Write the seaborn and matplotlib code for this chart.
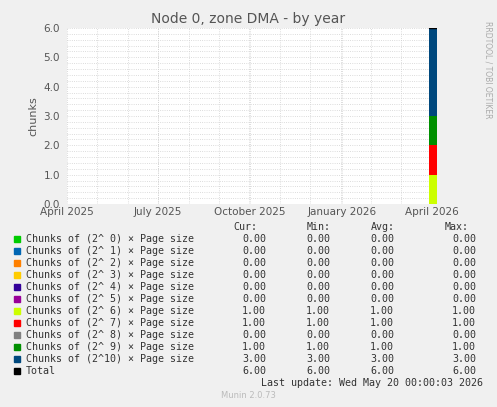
import numpy as np
import matplotlib
matplotlib.use('Agg')
import matplotlib.pyplot as plt
import seaborn as sns

sns.set_style('white')
plt.rcParams['font.family'] = ['DejaVu Sans']

# data: days since 2025-04-01
days = [362, 370]
series_names = ["Chunks of (2^ 0) * Page size", "Chunks of (2^ 1) * Page size",
                "Chunks of (2^ 2) * Page size", "Chunks of (2^ 3) * Page size",
                "Chunks of (2^ 4) * Page size", "Chunks of (2^ 5) * Page size",
                "Chunks of (2^ 6) * Page size", "Chunks of (2^ 7) * Page size",
                "Chunks of (2^ 8) * Page size", "Chunks of (2^ 9) * Page size",
                "Chunks of (2^10) * Page size", "Total"]
series_vals = [0, 0, 0, 0, 0, 0, 1, 1, 0, 1, 3]
cur = [0, 0, 0, 0, 0, 0, 1, 1, 0, 1, 3, 6]
mins = [0, 0, 0, 0, 0, 0, 1, 1, 0, 1, 3, 6]
avgs = [0, 0, 0, 0, 0, 0, 1, 1, 0, 1, 3, 6]
maxs = [0, 0, 0, 0, 0, 0, 1, 1, 0, 1, 3, 6]
colors = ["#00CC00", "#0066B3", "#FF8000", "#FFCC00", "#330099", "#990099",
          "#CCFF00", "#FF0000", "#808080", "#008F00", "#00487D", "#000000"]
xtick_pos = [0, 91, 183, 275, 365]
xtick_labels = ["April 2025", "July 2025", "October 2025", "January 2026", "April 2026"]

fig = plt.figure(figsize=(4.97, 4.07), dpi=100, facecolor='#f0f0f0')
ax = fig.add_axes([67/497, 1 - 204/407, 370/497, 176/407])
ax.set_facecolor('white')

base = np.zeros(len(days))
for v, c in zip(series_vals, colors[:-1]):
    top = base + v
    if v > 0:
        ax.fill_between(days, base, top, color=c, linewidth=0)
    base = top
ax.plot(days, base, color='black', lw=1)

ax.set_xlim(0, 370)
ax.set_ylim(0, 6)
ax.set_yticks(np.arange(0, 6.01, 1))
ax.set_yticklabels([f"{v:.1f}" for v in np.arange(0, 6.01, 1)], fontsize=7.5, color='#555555')
ax.set_xticks(xtick_pos)
ax.set_xticklabels(xtick_labels, fontsize=7.5, color='#555555')
ax.set_yticks(np.arange(0, 6.01, 0.2), minor=True)
ax.set_xticks(np.arange(0, 370, 30.4), minor=True)
ax.grid(True, which='both', color='#d0d0d0', ls=':', lw=0.6)
ax.tick_params(axis='y', length=0, which='both', pad=5)
ax.tick_params(axis='x', length=0, which='both', pad=2)
for s in ax.spines.values():
    s.set_visible(False)
ax.set_ylabel('chunks', fontsize=8, color='#555555')
fig.text(0.5, 1 - 19/407, 'Node 0, zone DMA - by year', ha='center', va='center',
         fontsize=10, color='#555555')
fig.text(488/497, 1 - 70/407, 'RRDTOOL / TOBI OETIKER', rotation=270, ha='center',
         va='center', fontsize=5.5, color='#aaaaaa')

mono = dict(family='DejaVu Sans Mono', fontsize=7.2, color='#333333')
y0 = 227
fig.text(233/497, 1 - y0/407, 'Cur:', ha='left', va='center', **mono)
fig.text(307/497, 1 - y0/407, 'Min:', ha='left', va='center', **mono)
fig.text(371/497, 1 - y0/407, 'Avg:', ha='left', va='center', **mono)
fig.text(445/497, 1 - y0/407, 'Max:', ha='left', va='center', **mono)
for i, name in enumerate(series_names):
    y = 1 - (239 + i * 12) / 407
    fig.patches.append(plt.Rectangle((14/497, y - 3/407), 6/497, 6/407,
                                     transform=fig.transFigure, color=colors[i]))
    fig.text(26/497, y, name.replace('*', '×'), ha='left', va='center', **mono)
    for xr, vals in zip([266, 330, 394, 476], [cur, mins, avgs, maxs]):
        fig.text(xr/497, y, f"{vals[i]:.2f}", ha='right', va='center', **mono)
fig.text(483/497, 1 - 383/407, 'Last update: Wed May 20 00:00:03 2026', ha='right',
         va='center', **mono)
fig.text(0.5, 1 - 396/407, 'Munin 2.0.73', ha='center', va='center', fontsize=6, color='#bbbbbb')

fig.savefig('out.png', dpi=100, facecolor=fig.get_facecolor())
